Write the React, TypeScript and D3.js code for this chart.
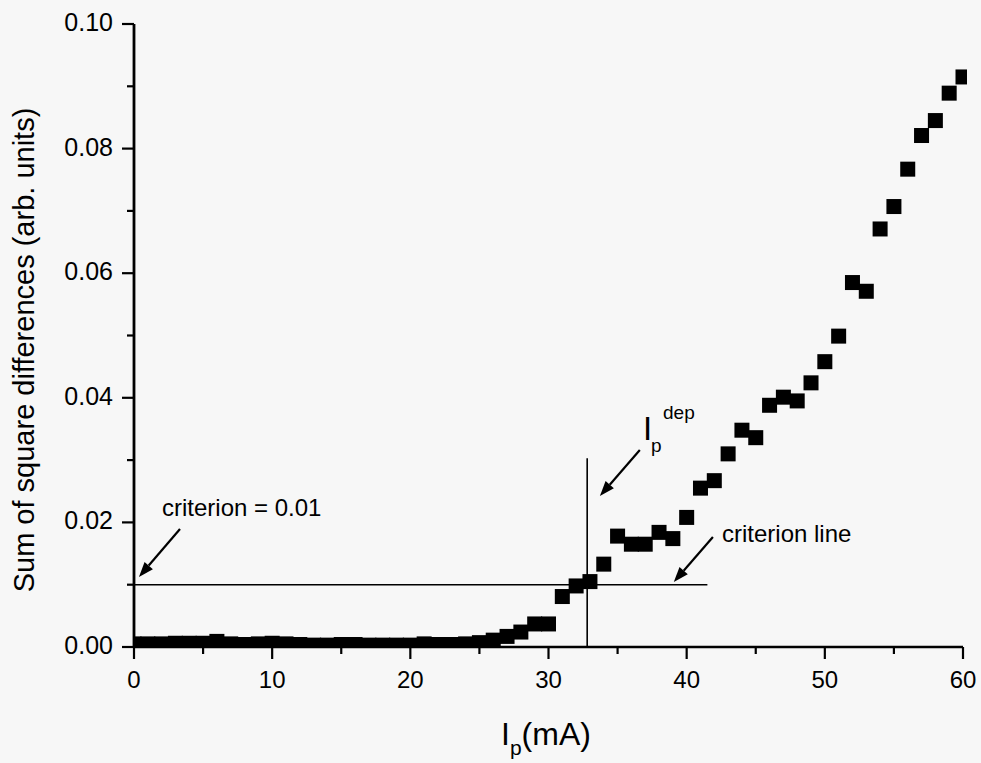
import React from "react";
import * as d3 from "d3";

// Probe current I_p (mA) and the sum of square differences at each step
const currents = d3.range(0, 61);
const sumSqDiff = [
  0.0005, 0.0005, 0.0005, 0.0006, 0.0006, 0.0006, 0.0009, 0.0005, 0.0004, 0.0005,
  0.0006, 0.0005, 0.0004, 0.0003, 0.0003, 0.0004, 0.0004, 0.0003, 0.0003, 0.0003,
  0.0003, 0.0005, 0.0004, 0.0004, 0.0005, 0.0007, 0.0011, 0.0017, 0.0024, 0.0037,
  0.0037, 0.0081, 0.0098, 0.0105, 0.0133, 0.0178, 0.0165, 0.0165, 0.0184, 0.0174,
  0.0208, 0.0255, 0.0267, 0.0310, 0.0348, 0.0336, 0.0388, 0.0401, 0.0395, 0.0424,
  0.0458, 0.0499, 0.0585, 0.0571, 0.0671, 0.0707, 0.0767, 0.0821, 0.0845, 0.0889,
  0.0915,
];

const xMajorTicks = [0, 10, 20, 30, 40, 50, 60];
const xMinorTicks = [5, 15, 25, 35, 45, 55];
const yMajorTicks = [0, 0.02, 0.04, 0.06, 0.08, 0.1];
const yMinorTicks = [0.01, 0.03, 0.05, 0.07, 0.09];

// Criterion threshold and the depletion current I_p^dep
const criterion = 0.01;
const criterionEnd = 41.5;
const ipDep = 32.8;
const ipDepTop = 0.0303;

const W = 981;
const H = 763;
const FONT = "'Liberation Sans', Arial, sans-serif";

const x = d3.scaleLinear().domain([0, 60]).range([134, 963]);
const y = d3.scaleLinear().domain([0, 0.1]).range([647, 24]);

const MARK = 15;

function Arrow({ from, to }: { from: [number, number]; to: [number, number] }) {
  const x1 = x(from[0]);
  const y1 = y(from[1]);
  const x2 = x(to[0]);
  const y2 = y(to[1]);
  const ang = Math.atan2(y2 - y1, x2 - x1);
  const len = 15;
  const half = 5.5;
  const bx = x2 - len * Math.cos(ang);
  const by = y2 - len * Math.sin(ang);
  const px = -Math.sin(ang) * half;
  const py = Math.cos(ang) * half;
  return (
    <g>
      <line x1={x1} y1={y1} x2={bx} y2={by} stroke="#000" strokeWidth={2.2} />
      <path
        d={`M${x2},${y2}L${bx + px},${by + py}L${bx - px},${by - py}Z`}
        fill="#000"
      />
    </g>
  );
}

export default function App() {
  const fmtY = d3.format(".2f");
  return (
    <div style={{ position: "absolute", left: 0, top: 0 }}>
      <svg width={W} height={H} style={{ display: "block", fontFamily: FONT }}>
        <rect width={W} height={H} fill="#f7f7f7" />
        <defs>
          <clipPath id="plot-clip">
            <rect x={x(0)} y={y(0.1) - 10} width={967 - x(0)} height={y(0) - y(0.1) + 10} />
          </clipPath>
        </defs>

        {/* criterion line and depletion marker */}
        <line x1={x(0)} x2={x(criterionEnd)} y1={y(criterion)} y2={y(criterion)} stroke="#000" strokeWidth={1.6} />
        <line x1={x(ipDep)} x2={x(ipDep)} y1={y(0)} y2={y(ipDepTop)} stroke="#000" strokeWidth={1.6} />

        {/* data squares */}
        <g clipPath="url(#plot-clip)">
          {currents.map((c, i) => (
            <rect
              key={c}
              x={x(c) - MARK / 2}
              y={y(sumSqDiff[i]) - MARK / 2}
              width={MARK}
              height={MARK}
              fill="#000"
            />
          ))}
        </g>

        {/* axes */}
        <line x1={x(0)} x2={x(60)} y1={y(0)} y2={y(0)} stroke="#000" strokeWidth={2.4} />
        <line x1={x(0)} x2={x(0)} y1={y(0) + 1} y2={y(0.1)} stroke="#000" strokeWidth={2.8} />

        {xMajorTicks.map((t) => (
          <g key={`xM${t}`}>
            <line x1={x(t)} x2={x(t)} y1={y(0)} y2={y(0) + 12} stroke="#000" strokeWidth={2.2} />
            <text x={x(t)} y={688} textAnchor="middle" fontSize={24}>
              {t}
            </text>
          </g>
        ))}
        {xMinorTicks.map((t) => (
          <line key={`xm${t}`} x1={x(t)} x2={x(t)} y1={y(0)} y2={y(0) + 7} stroke="#000" strokeWidth={2.2} />
        ))}
        {yMajorTicks.map((t) => (
          <g key={`yM${t}`}>
            <line x1={x(0) - 12} x2={x(0)} y1={y(t)} y2={y(t)} stroke="#000" strokeWidth={2.2} />
            <text x={113} y={y(t) + 7} textAnchor="end" fontSize={25}>
              {fmtY(t)}
            </text>
          </g>
        ))}
        {yMinorTicks.map((t) => (
          <line key={`ym${t}`} x1={x(0) - 7} x2={x(0)} y1={y(t)} y2={y(t)} stroke="#000" strokeWidth={2.2} />
        ))}

        {/* axis titles */}
        <text
          transform={`translate(34,${350}) rotate(-90)`}
          textAnchor="middle"
          fontSize={29}
        >
          Sum of square differences (arb. units)
        </text>
        <text x={501} y={745} fontSize={32}>
          I
          <tspan fontSize={21} dy={10}>p</tspan>
          <tspan dy={-10}>(mA)</tspan>
        </text>

        {/* annotations */}
        <text x={162} y={516} fontSize={24}>criterion = 0.01</text>
        <Arrow from={[3.33, 0.01894]} to={[0.36, 0.01124]} />

        <text x={722} y={542} fontSize={24}>criterion line</text>
        <Arrow from={[41.9, 0.01766]} to={[39.07, 0.01043]} />

        <text x={643} y={440} fontSize={33}>I</text>
        <text x={651} y={452} fontSize={19}>p</text>
        <text x={663} y={419} fontSize={19}>dep</text>
        <Arrow from={[36.61, 0.03162]} to={[33.72, 0.02424]} />
      </svg>
    </div>
  );
}
